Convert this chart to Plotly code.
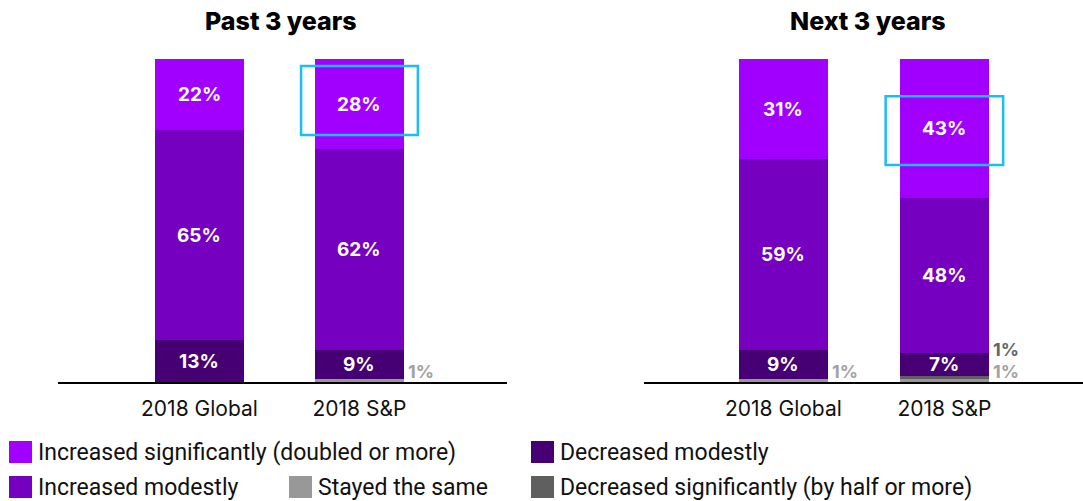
import plotly.graph_objects as go

W, H = 1083, 501

groups = ["2018 Global", "2018 S&P"]
panels = ["Past 3 years", "Next 3 years"]

# Series listed bottom-to-top in stacking order
series_names = [
    "Stayed the same",
    "Decreased significantly (by half or more)",
    "Decreased modestly",
    "Increased modestly",
    "Increased significantly (doubled or more)",
]
series_colors = ["#989898", "#5f5f5f", "#460073", "#7500c0", "#a100ff"]
small_label_colors = ["#a3a3a3", "#666666", "#ffffff", "#ffffff", "#ffffff"]

past_values = [
    [0, 1],    # stayed the same
    [0, 0],    # decreased significantly
    [13, 9],   # decreased modestly
    [65, 62],  # increased modestly
    [22, 28],  # increased significantly
]
next_values = [
    [1, 1],
    [0, 1],
    [9, 7],
    [59, 48],
    [31, 43],
]

fig = go.Figure()

panel_data = [past_values, next_values]
axis_ids = [("x", "y"), ("x2", "y2")]
bar_w = 0.556

annotations = []
for p, values in enumerate(panel_data):
    xa, ya = axis_ids[p]
    for s, name in enumerate(series_names):
        fig.add_trace(go.Bar(
            x=[0, 1], y=values[s], name=name, width=bar_w,
            marker=dict(color=series_colors[s], line=dict(width=0)),
            xaxis=xa, yaxis=ya, showlegend=False, hoverinfo="skip",
        ))
    # value labels: inside for large segments, beside the bar for tiny ones
    for i in range(len(groups)):
        base = 0
        small_k = 0
        for s in range(len(series_names)):
            v = values[s][i]
            if v <= 0:
                continue
            if v >= 5:
                annotations.append(dict(
                    x=i, y=base + v / 2, xref=xa, yref=ya, text=f"{v}%",
                    showarrow=False, xanchor="center", yanchor="middle",
                    font=dict(family="Inter", size=19, color="white", weight=700),
                ))
            else:
                annotations.append(dict(
                    x=i + bar_w / 2, y=0, xref=xa, yref=ya, text=f"{v}%",
                    showarrow=False, xanchor="left", yanchor="bottom",
                    xshift=3, yshift=-1 + 22 * small_k, borderpad=0,
                    font=dict(family="Inter", size=18, color=small_label_colors[s], weight=700),
                ))
                small_k += 1
            base += v

# panel titles
for txt, xc in zip(panels, [281 / W, 868 / W]):
    annotations.append(dict(
        x=xc, y=1 - 21 / H, xref="paper", yref="paper", text=txt, showarrow=False,
        xanchor="center", yanchor="middle",
        font=dict(family="Inter", size=25, color="black", weight=800),
    ))

# highlight boxes around the "increased significantly" S&P values
shapes = [
    dict(type="rect", xref="x", yref="y", x0=0.635, x1=1.365, y0=76.5, y1=97.8,
         line=dict(color="#19bef5", width=2.5), fillcolor="rgba(0,0,0,0)"),
    dict(type="rect", xref="x2", yref="y2", x0=0.635, x1=1.365, y0=67.2, y1=88.5,
         line=dict(color="#19bef5", width=2.5), fillcolor="rgba(0,0,0,0)"),
]

# legend drawn as swatches and labels
legend_order = [4, 2, 3, 0, 1]
legend_pos = [(9, 452), (531, 452), (9, 487), (289, 487), (531, 487)]
for s, (lx, ly) in zip(legend_order, legend_pos):
    shapes.append(dict(type="rect", xref="paper", yref="paper",
                       x0=lx / W, x1=(lx + 23) / W, y0=1 - (ly + 11) / H, y1=1 - (ly - 11) / H,
                       fillcolor=series_colors[s], line=dict(width=0)))
    annotations.append(dict(
        x=(lx + 27) / W, y=1 - ly / H, xref="paper", yref="paper", text=series_names[s],
        showarrow=False, xanchor="left", yanchor="middle",
        font=dict(family="Roboto", size=23, color="#111111"),
    ))

common_x = dict(tickvals=[0, 1], ticktext=groups, showline=True, linecolor="black",
                linewidth=1.5, showgrid=False, zeroline=False, ticks="",
                ticklabelstandoff=7,
                tickfont=dict(family="Inter", size=21, color="#111111"), fixedrange=True)
common_y = dict(range=[0, 100], visible=False, domain=[1 - 382 / H, 1 - 59 / H], fixedrange=True)

fig.update_layout(
    width=W, height=H, margin=dict(l=0, r=0, t=0, b=0),
    paper_bgcolor="white", plot_bgcolor="white", barmode="stack", bargap=0,
    xaxis=dict(domain=[58 / W, 507 / W], range=[-0.884, 1.922], anchor="y", **common_x),
    xaxis2=dict(domain=[644 / W, 1.0], range=[-0.866, 1.861], anchor="y2", **common_x),
    yaxis=dict(anchor="x", **common_y),
    yaxis2=dict(anchor="x2", **common_y),
    annotations=annotations, shapes=shapes, showlegend=False,
)

fig.write_html("out.html")
